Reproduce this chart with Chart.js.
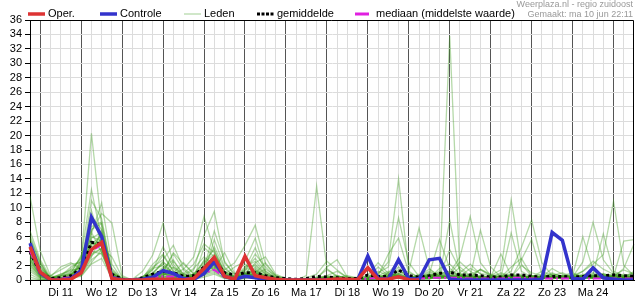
<!DOCTYPE html>
<html>
<head>
<meta charset="utf-8">
<script src="https://cdn.jsdelivr.net/npm/chart.js@4.4.1/dist/chart.umd.min.js"></script>
<style>
  body { margin: 0; background: #fff; font-family: "Liberation Sans", Arial, sans-serif; }
  #wrap { position: relative; width: 635px; height: 300px; }
  .leg { position: absolute; top: 7px; height: 13px; font-size: 11px; line-height: 13px; color: #000; white-space: nowrap; }
  .leg svg { position: absolute; left: 0; top: 4px; }
  .leg span { position: absolute; top: 0; }
  .bron { position: absolute; right: 2px; font-size: 9px; color: #999; white-space: nowrap; }
</style>
</head>
<body>
<div id="wrap">
  <canvas id="myChart" width="635" height="300"></canvas>
  <div id="legenda"></div>
  <div class="bron" style="top:-1px">Weerplaza.nl - regio zuidoost</div>
  <div class="bron" style="top:9px">Gemaakt: ma 10 jun 22:11</div>
</div>
<script>
// dagen op de x-as (label staat op 12 uur), 6-uurs stappen vanaf ma 10 jun 18:00
const dagLabels = ['Di 11', 'Wo 12', 'Do 13', 'Vr 14', 'Za 15', 'Zo 16', 'Ma 17', 'Di 18', 'Wo 19', 'Do 20', 'Vr 21', 'Za 22', 'Zo 23', 'Ma 24'];
const uren = ['00', '06', '12', '18'];

// neerslag in mm per 6 uur
const oper = [4.6, 1.1,0.05,0,0.1, 1.0,4.2,5.2,0.2, 0,0,0,0.1, 0.1,0.1,0,0.2, 1.6,3.15,0.5,0.1, 3.3,0.6,0.3,0.1, 0,0,0,0, 0.05,0.15,0.1,0.05, 1.7,0.1,0.1,0.45, 0.05,0];
const controle = [5.1, 1.0,0,0,0.2, 1.3,8.7,6.0,0.3, 0,0,0.1,0.4, 1.3,0.9,0.2,0.1, 0.9,2.5,0.5,0.1, 0.5,0.3,0.1,0, 0,0,0,0, 0,0,0,0, 3.3,0.2,0.1,2.8, 0.2,0.1,2.8,3.0, 0.1,0,0,0, 0,0,0,0, 0,0.1,6.6,5.5, 0.2,0.1,1.7,0.3, 0.1,0,0];
const gemiddelde = [3.9, 1.0,0.2,0.3,0.6, 1.6,5.2,5.0,0.8, 0.1,0,0.3,0.8, 1.2,1.0,0.5,0.6, 1.8,2.7,1.0,0.7, 1.0,1.0,0.6,0.3, 0.2,0.1,0.2,0.5, 0.4,0.3,0.2,0.2, 0.7,0.5,0.5,1.4, 0.6,0.4,0.6,0.9, 1.1,0.7,0.7,0.6, 0.4,0.4,0.7,0.7, 0.5,0.4,0.5,0.5, 0.4,0.5,0.6,0.6, 0.7,0.6,0.5];
const mediaan = [4.0, 0.8,0.1,0.2,0.4, 1.4,4.0,4.9,0.5, 0,0,0.1,0.4, 0.5,0.5,0.2,0.3, 1.0,1.4,0.4,0.2, 0.5,0.6,0.3,0.1, 0,0,0,0, 0.1,0.1,0,0, 0.2,0.3,0.2,0.4, 0.2,0.2,0.3,0.3, 0.3,0.3,0.2,0.2, 0.2,0.2,0.3,0.3, 0.2,0.2,0.2,0.2, 0.2,0.2,0.2,0.2, 0.2,0.2,0.2];

const leden = [
  [5.2, 1.8,0.3,0.1,0.4, 2.6,20.3,7.4,0.4, 0,0,0.1,0.4, 0.8,0.5,0.1,0.3, 1.2,2.0,0.6,0.2, 0.8,1.4,0.5,0.1, 0,0,0,0.2, 0.3,0.1,0,0, 0.1,0.6,0.4,1.8, 0.5,0.2,0.8,0.4, 1.2,0.6,0.3,0.5, 0.1,0.2,0.6,0.3, 0.2,0.4,0.8,0.5, 0.1,0.2,0.5,0.9, 0.4,0.2,0.3],
  [3.6, 0.9,0.2,0.5,1.1, 3.2,12.5,5.8,0.6, 0.1,0,0.2,1.5, 3.4,1.2,0.4,0.8, 2.6,4.2,1.0,0.3, 1.5,3.0,1.2,0.4, 0.1,0,0.1,0.3, 0.6,1.2,0.4,0.1, 0.3,0.2,1.0,2.5, 0.6,0.3,0.2,1.6, 2.2,0.8,0.4,1.5, 0.6,0.3,0.4,2.0, 1.0,0.6,0.3,0.2, 0.4,1.2,2.6,1.5, 0.8,0.5,0.6],
  [6.2, 2.5,0.1,0,0.2, 1.8,11.0,8.5,1.2, 0.2,0,0,0.3, 1.6,2.8,0.6,0.2, 4.5,3.2,0.8,0.1, 0.5,0.9,2.4,0.6, 0,0,0,0, 0.1,0,0,0, 0,0.2,0.6,0.9, 0.3,0,0.1,0.6, 0.5,1.0,2.2,0.8, 0.2,0.1,0.2,0.4, 0.3,0.2,0.1,0.6, 1.0,0.4,0.2,0.3, 0.6,1.4,0.8],
  [4.0, 1.2,0.5,1.8,2.4, 1.5,6.4,10.7,2.2, 0.1,0,0.5,1.0, 2.2,0.9,0.3,0.6, 1.0,5.6,1.8,0.4, 0.6,0.4,0.2,0.1, 0,0.1,0.2,0.4, 1.4,0.6,0.2,0, 0.2,0.1,0.3,0.5, 0.2,0.4,0.6,1.0, 0.8,2.5,1.2,0.3, 0.1,0.4,1.8,3.0, 0.6,0.3,0.2,0.4, 0.8,0.6,1.5,0.7, 0.3,0.2,0.4],
  [2.8, 0.6,0,0,0.1, 0.8,4.2,5.5,0.4, 0,0,0,0.2, 0.6,1.8,0.9,0.2, 0.7,1.5,3.8,0.9, 2.2,1.0,0.4,0.2, 0.1,0,0.6,13.0, 1.6,0.4,0.1,0, 0.2,0.3,0.5,0.4, 0.1,0.6,1.5,0.5, 0.3,0.4,0.2,0.1, 0.2,0.6,0.3,0.2, 0.4,1.2,0.6,0.3, 0.5,0.2,0.4,0.3, 0.2,0.6,1.0],
  [1.5, 0.3,0,0.2,0.6, 1.2,3.8,6.8,0.9, 0,0,0.1,0.6, 1.4,0.6,0.2,0.5, 1.8,2.6,0.5,0.2, 0.4,0.8,0.3,0, 0,0,0,0.1, 0.2,0.4,0.6,0.3, 0.5,0.8,2.5,14.0, 1.2,0.3,0.6,0.4, 0.6,0.3,0.8,0.5, 0.4,1.0,0.5,0.3, 0.2,0.4,1.6,0.8, 0.3,0.2,0.6,0.4, 0.2,0.3,0.5],
  [3.0, 0.8,0.2,0.1,0.3, 1.0,5.2,4.6,0.3, 0,0,0.2,0.5, 0.9,0.4,0.2,0.6, 1.2,1.8,0.4,0.1, 0.3,0.6,0.2,0, 0,0,0,0.1, 0.2,0.1,0.3,0.2, 0.1,0.4,0.8,0.6, 0.3,0.4,1.0,0.6, 33.8,0.8,0.2,0.4, 0.1,0.2,0.5,0.3, 0.2,0.6,0.4,0.3, 0.2,0.4,0.3,0.6, 0.8,0.4,0.3],
  [4.8, 1.5,0.3,0.2,0.8, 2.0,8.2,6.0,1.0, 0.1,0,0.3,0.9, 1.2,3.6,1.4,0.3, 2.2,1.4,0.6,0.2, 1.0,2.2,0.8,0.2, 0,0,0,0.1, 0.3,0.2,0.1,0, 0.2,1.2,0.6,0.8, 0.4,0.2,0.5,1.2, 0.8,0.5,1.6,0.9, 0.6,1.4,11.1,2.2, 0.5,0.3,0.6,0.4, 0.2,0.8,0.5,0.3, 0.6,0.4,0.2],
  [0.8, 0.1,0,0.3,0.9, 0.6,2.4,4.2,0.2, 0,0,0.1,0.4, 0.7,1.0,2.4,0.8, 1.0,2.4,0.9,0.3, 0.6,1.6,0.4,0.1, 0,0,0.1,0.2, 0.3,0.6,0.2,0.1, 0.3,0.2,0.4,0.6, 0.2,0.5,0.8,0.3, 0.5,1.8,0.6,0.4, 0.2,0.3,0.8,0.6, 0.4,0.3,0.2,0.5, 0.6,1.2,2.2,3.5, 10.9,2.0,0.6],
  [11.6, 4.0,0.6,0.3,0.2, 1.4,9.6,4.8,0.5, 0,0,0,0.3, 0.8,0.3,0.1,0.2, 0.6,1.0,0.3,0.1, 0.4,0.6,0.2,0, 0,0,0,0, 0.1,0,0,0.1, 0.2,0.5,0.3,0.6, 0.2,0.1,0.3,0.2, 0.6,0.4,0.3,0.2, 0.1,0.2,0.4,0.2, 0.3,0.2,0.5,0.4, 0.2,0.3,0.4,0.8, 0.6,0.3,1.2],
  [5.6, 2.2,0.2,0.1,0.5, 2.2,7.4,8.0,0.6, 0,0,0.3,2.2, 3.6,1.2,0.6,1.4, 6.2,9.5,2.4,0.8, 0.5,0.4,0.2,0.1, 0,0,0.1,0.2, 0.4,0.2,0,0, 0.1,0.3,0.2,0.5, 0.3,0.6,0.4,0.8, 1.2,0.6,0.4,0.3, 0.2,0.4,0.6,0.4, 0.3,0.2,0.6,1.0, 0.4,0.6,0.3,0.2, 0.3,0.5,0.4],
  [2.2, 0.4,0.1,0.6,1.5, 3.0,5.8,6.6,1.6, 0.1,0,0.2,0.8, 2.6,0.8,1.5,3.2, 8.8,4.0,1.2,0.4, 1.6,4.5,1.0,0.3, 0,0,0.1,0.3, 0.5,0.2,0.1,0, 0.2,0.6,1.2,0.4, 0.1,0.3,0.6,0.9, 0.4,0.3,0.8,1.4, 0.6,0.3,0.2,0.5, 0.4,0.8,0.3,0.2, 0.6,0.4,0.8,0.5, 0.2,0.6,0.3],
  [3.4, 1.0,0.1,0.2,0.4, 1.1,4.6,5.0,0.8, 0,0.1,1.2,3.5, 7.9,2.2,0.4,0.8, 1.4,2.8,0.6,0.2, 0.8,0.6,0.3,0.1, 0,0,0,0.1, 0.2,0.1,0,0, 0.1,0.2,0.5,0.3, 0.2,0.8,0.3,0.6, 0.3,0.6,0.4,0.2, 0.3,0.5,0.3,0.2, 0.4,0.3,0.5,0.2, 0.3,0.5,0.6,0.4, 0.2,0.3,0.6],
  [4.4, 1.4,0.2,0.1,0.3, 1.6,6.0,5.4,0.4, 0,0,0.2,0.6, 1.0,0.6,0.3,0.4, 1.6,3.4,1.0,0.5, 1.8,2.6,0.9,0.2, 0.1,0,0,0.2, 0.6,0.3,0.2,0.3, 0.5,1.0,1.8,8.6, 2.4,0.5,0.3,0.6, 0.4,0.2,0.5,0.3, 0.2,0.3,0.8,0.4, 0.6,0.4,0.3,0.5, 0.3,0.6,1.0,0.6, 0.4,0.3,0.2],
  [3.8, 0.7,0.1,0,0.2, 0.9,3.6,4.4,0.3, 0,0,0,0.2, 0.5,0.3,0.1,0.2, 0.9,1.6,0.5,0.2, 0.6,1.2,0.4,0.1, 0,0,0,0.1, 0.2,0.4,0.5,0.2, 0.1,0.2,0.3,0.5, 0.3,0.4,0.7,0.4, 1.0,3.2,8.8,2.4, 0.6,0.3,0.4,0.8, 0.3,0.5,0.4,0.3, 0.2,0.4,0.6,0.3, 0.5,0.8,0.4],
  [2.0, 0.5,0.3,0.8,1.2, 1.8,5.0,6.2,0.7, 0,0,0.4,1.8, 2.8,4.8,1.6,0.5, 1.0,2.2,0.4,0.2, 0.5,0.8,1.5,0.6, 0.2,0,0,0.1, 0.3,0.2,0.1,0, 0.2,0.4,0.3,1.2, 0.6,0.3,0.2,0.4, 0.6,0.4,0.3,1.5, 0.8,0.4,1.2,4.5, 8.3,2.4,0.6,0.3, 0.2,0.5,0.4,0.6, 0.3,0.2,0.4],
  [6.8, 2.8,0.4,0.2,0.6, 2.4,7.0,7.8,1.4, 0.1,0,0.1,0.5, 1.8,0.9,0.2,0.4, 2.0,3.0,0.8,0.3, 1.2,3.6,1.8,0.4, 0,0,0,0.1, 0.2,0.1,0,0, 0.3,0.2,0.4,0.8, 0.4,0.2,0.6,0.4, 0.5,0.3,0.6,0.4, 0.2,0.6,0.4,0.3, 0.5,0.3,0.8,0.6, 0.4,2.5,8.0,2.8, 0.9,0.5,0.3],
  [1.2, 0.2,0.1,0.6,1.8, 2.6,4.0,3.6,0.5, 0,0,0.1,0.4, 1.2,0.4,0.8,1.6, 3.2,2.0,1.4,2.4, 4.8,7.6,2.2,0.6, 0.1,0,0,0.2, 0.4,0.6,0.2,0, 0.1,0.3,0.4,0.6, 0.2,0.3,0.4,0.3, 0.6,0.4,0.3,0.2, 0.4,0.8,0.5,0.6, 0.3,0.4,1.0,0.4, 0.2,0.3,0.5,0.4, 0.6,0.3,0.2],
  [4.6, 1.6,0.4,0.6,0.9, 3.4,6.8,9.2,7.9, 0.6,0,0.1,0.3, 0.9,0.4,0.2,0.5, 1.4,2.2,0.7,0.3, 0.8,1.0,0.4,0.1, 0,0,0,0.1, 0.1,0,0,0.1, 0.3,0.5,0.4,0.7, 0.2,0.5,1.2,0.6, 0.4,0.6,0.3,0.5, 0.2,0.3,0.6,0.4, 0.5,0.3,0.2,0.6, 0.4,0.3,0.6,0.8, 0.3,0.4,0.5],
  [2.6, 0.6,0.2,0.4,0.7, 1.3,4.4,5.2,0.9, 0,0,0.2,0.7, 1.5,0.8,0.3,0.6, 1.1,2.5,0.6,0.2, 0.7,1.8,0.6,0.2, 0,0.1,0.3,0.8, 2.6,1.4,0.3,0.1, 0.2,1.8,0.6,0.9, 1.2,7.2,1.6,0.5, 0.4,0.6,0.3,0.2, 0.3,0.2,0.4,0.3, 0.6,0.3,0.4,0.2, 0.3,0.4,0.2,0.5, 0.4,0.6,0.8],
  [0.4, 0,0,0.2,0.5, 0.8,2.8,3.8,0.4, 0,0,0,0.2, 0.4,0.2,0.1,0.3, 0.8,1.2,0.3,0.1, 0.3,0.6,0.2,0, 0,0,0,0, 0.1,0,0,0, 0.1,0.2,0.3,0.4, 0.2,0.1,0.3,0.6, 4.2,1.4,0.5,6.9, 1.8,0.4,0.3,0.2, 0.2,0.4,0.3,0.2, 0.6,0.4,0.3,0.6, 0.4,1.6,5.0],
  [3.2, 0.9,0.2,0.3,0.6, 1.4,5.5,4.0,0.8, 0,0,0.3,1.4, 4.6,1.8,0.6,0.3, 1.6,6.8,2.6,0.6, 0.9,1.2,0.6,0.2, 0,0,0,0.1, 0.2,0.1,0,0, 0.2,0.4,0.3,0.2, 0.3,0.2,0.4,0.3, 0.2,0.3,0.6,0.4, 0.3,0.4,6.5,1.2, 0.4,0.3,0.2,0.5, 0.6,6.0,1.4,0.5, 0.3,0.4,0.6],
  [5.0, 2.0,0.1,0,0.1, 0.7,3.2,6.0,1.1, 0,0,0.1,0.2, 0.6,2.6,0.8,0.2, 2.8,1.4,0.8,1.8, 2.6,5.8,1.2,0.3, 0,0,0,0, 0.3,0.2,0.1,0, 0.1,0.2,1.0,0.5, 0.3,0.1,0.2,0.4, 8.3,1.0,0.3,0.4, 0.2,0.6,0.3,0.4, 0.4,0.2,0.3,0.2, 0.3,0.4,0.6,0.3, 0.2,0.5,0.4],
  [1.8, 0.3,0.6,1.4,2.2, 2.4,4.8,5.6,0.9, 0.1,0,0.2,0.9, 1.0,3.8,2.2,0.9, 1.6,2.0,0.5,0.3, 0.5,1.0,0.3,0.1, 0,0,0,0.1, 0.2,0.1,0.2,0.4, 0.6,2.4,0.9,0.5, 0.4,0.3,0.6,0.4, 0.3,0.5,0.4,0.3, 0.6,0.3,0.2,0.5, 0.3,0.6,0.4,0.3, 0.5,0.6,0.4,0.2, 0.4,0.3,0.2],
  [4.2, 1.1,0.1,0.1,0.4, 1.6,6.6,3.8,0.2, 0,0,0,0.2, 0.4,0.6,0.9,2.2, 5.0,3.8,0.9,0.3, 1.0,0.5,0.2,0, 0,0,0,0, 0.1,0,0,0.1, 0.1,0.3,0.6,0.4, 0.2,0.4,0.3,0.2, 0.4,0.8,0.4,0.6, 0.3,0.2,0.6,0.4, 0.3,0.4,0.2,0.4, 0.3,0.4,0.5,0.3, 0.6,0.4,0.5],
  [0, 0,0,0.1,0.3, 0.5,2.2,3.0,0.2, 0,0,0,0.1, 0.2,0.1,0,0.1, 0.4,0.8,0.2,0, 0.2,0.3,0.1,0, 0,0,0,0, 0,0,0,0, 0.1,0.2,0.1,0.3, 0.1,0.2,0.4,0.2, 0.3,0.2,0.1,0.2, 0.1,0.2,0.3,0.2, 0.1,0.2,0.3,0.2, 0.1,0.2,0.3,0.2, 0.1,0.2,0.3],
  [3.6, 0.8,0.3,0.6,0.8, 2.0,5.2,4.8,0.6, 0,0,0.2,1.0, 2.4,1.6,0.5,0.4, 1.8,4.6,1.6,0.4, 0.8,2.4,3.2,0.8, 0.2,0,0,0.2, 0.4,0.3,0.1,0, 0.3,0.6,0.5,1.4, 0.5,0.3,0.8,5.6, 1.6,0.6,0.4,0.3, 0.2,0.3,0.4,0.6, 0.3,0.2,0.4,0.3, 0.5,0.3,0.8,6.4, 1.2,0.6,0.4],
  [2.4, 0.5,0.1,0.2,0.3, 1.0,3.4,4.4,3.2, 0.4,0,0.1,0.3, 0.6,0.3,0.2,0.4, 1.2,1.8,0.6,0.2, 0.6,0.9,0.4,0.1, 0,0,0,0.1, 0.2,0.1,0,0, 0.1,0.3,0.2,0.4, 0.2,0.4,0.3,0.5, 0.3,0.5,0.3,0.2, 0.4,3.6,0.6,0.4, 0.2,0.3,0.2,0.4, 0.3,0.2,0.4,0.3, 0.5,5.4,5.6],
  [5.8, 2.4,0.2,0.3,0.6, 2.8,8.8,7.0,1.0, 0.1,0,0.4,1.6, 2.0,1.0,0.3,0.9, 2.4,3.6,1.2,0.4, 1.4,2.0,0.8,0.3, 0,0,0,0.1, 0.3,0.2,0.1,0.1, 0.2,0.3,0.4,0.6, 0.3,0.2,0.5,0.4, 0.6,0.4,0.5,0.3, 0.4,0.3,0.5,0.3, 0.6,0.4,0.3,0.2, 0.3,0.5,0.4,0.3, 0.2,0.3,0.5],
  [2.9, 0.7,0.2,0.8,1.4, 1.5,4.2,6.4,0.7, 0,0,0.2,0.6, 1.1,0.7,0.4,0.6, 1.5,2.6,0.6,0.2, 0.6,1.4,0.5,0.1, 0,0,0,0.1, 1.8,2.8,0.4,0.2, 0.4,0.6,3.6,5.8, 1.0,0.4,0.3,0.6, 0.4,0.3,0.2,0.4, 0.3,0.4,0.3,2.8, 5.6,0.8,0.4,0.2, 0.3,0.4,0.3,0.4, 0.6,0.3,0.4]
];

// categorieen: 6-uurs tijdstappen
const stappen = ['Ma 10 18'];
dagLabels.forEach(d => uren.forEach(u => stappen.push(d + ' ' + u)));
['00', '06', '12'].forEach(u => stappen.push('Di 25 ' + u));

const kleuren = { oper: '#dd3333', controle: '#3333cc', leden: 'rgba(60,155,30,0.38)', gemiddelde: '#000', mediaan: '#e020e0' };

const datasets = [
  { label: 'Oper.', data: oper, borderColor: kleuren.oper, borderWidth: 3.5, order: 1 },
  { label: 'Controle', data: controle, borderColor: kleuren.controle, borderWidth: 3.5, order: 2 },
  { label: 'mediaan (middelste waarde)', data: mediaan, borderColor: kleuren.mediaan, borderWidth: 2, borderDash: [8, 3, 2, 3], order: 3 },
  { label: 'gemiddelde', data: gemiddelde, borderColor: kleuren.gemiddelde, borderWidth: 3, borderDash: [3, 3], order: 4 }
];
leden.forEach((rij, i) => datasets.push({ label: 'Leden ' + (i + 1), data: rij, borderColor: kleuren.leden, borderWidth: 1.3, order: 5 }));

// rand boven en rechts om het plotgebied
const kader = {
  id: 'kader',
  afterDraw(chart) {
    const { ctx, chartArea: a } = chart;
    ctx.save();
    ctx.strokeStyle = '#000';
    ctx.lineWidth = 1;
    ctx.beginPath();
    ctx.moveTo(a.left, a.top + 0.5);
    ctx.lineTo(a.right - 0.5, a.top + 0.5);
    ctx.lineTo(a.right - 0.5, a.bottom);
    ctx.stroke();
    ctx.restore();
  }
};

new Chart(document.getElementById('myChart'), {
  type: 'line',
  data: { labels: stappen, datasets: datasets },
  options: {
    responsive: false,
    animation: false,
    events: [],
    layout: { padding: { top: 20, right: 1, left: 0, bottom: 0 } },
    elements: { point: { radius: 0 }, line: { tension: 0, fill: false } },
    plugins: { legend: { display: false }, tooltip: { enabled: false } },
    scales: {
      x: {
        afterFit: s => { s.height = 20; },
        grid: {
          color: c => (c.index % 4 === 1 ? '#555' : '#dcdcdc'),
          tickColor: '#000',
          tickLength: 5
        },
        border: { color: '#000', width: 1 },
        ticks: {
          autoSkip: false,
          maxRotation: 0,
          padding: 1,
          color: '#000',
          font: { family: '"Liberation Sans", Arial, sans-serif', size: 11 },
          callback: (v, i) => (i % 4 === 3 ? dagLabels[(i - 3) / 4] : '')
        }
      },
      y: {
        min: 0,
        max: 36,
        afterFit: s => { s.width = 30; },
        grid: { color: '#dcdcdc', tickColor: '#000', tickLength: 5 },
        border: { color: '#000', width: 1 },
        ticks: {
          stepSize: 2,
          maxTicksLimit: 40,
          autoSkip: false,
          padding: 3,
          color: '#000',
          font: { family: '"Liberation Sans", Arial, sans-serif', size: 11 }
        }
      }
    }
  },
  plugins: [kader]
});

// legenda boven de grafiek
const legendaItems = [
  { tekst: 'Oper.', x: 28, kleur: kleuren.oper, breedte: 3.5, streep: '' },
  { tekst: 'Controle', x: 100, kleur: kleuren.controle, breedte: 3.5, streep: '' },
  { tekst: 'Leden', x: 184, kleur: 'rgba(60,155,30,0.4)', breedte: 1.2, streep: '' },
  { tekst: 'gemiddelde', x: 257, kleur: '#000', breedte: 3, streep: '3 1.5' },
  { tekst: 'mediaan (middelste waarde)', x: 355, kleur: kleuren.mediaan, breedte: 3, streep: '14 3 2 3' }
];
const leg = document.getElementById('legenda');
legendaItems.forEach(it => {
  const d = document.createElement('div');
  d.className = 'leg';
  d.style.left = it.x + 'px';
  d.innerHTML = '<svg width="18" height="6"><line x1="0" y1="3" x2="17" y2="3" stroke="' + it.kleur +
    '" stroke-width="' + it.breedte + '"' + (it.streep ? ' stroke-dasharray="' + it.streep + '"' : '') +
    '/></svg><span style="left:' + (it.x === 355 ? 21 : 20) + 'px">' + it.tekst + '</span>';
  leg.appendChild(d);
});
</script>
</body>
</html>
